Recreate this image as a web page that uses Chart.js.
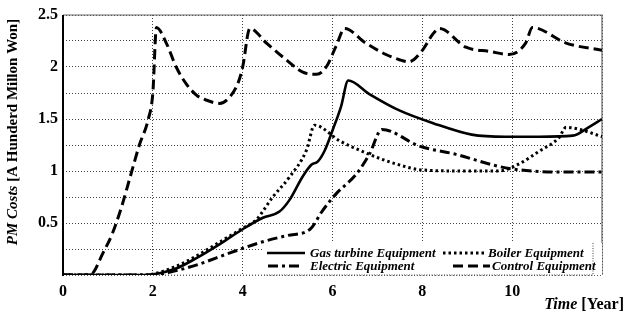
<!DOCTYPE html>
<html>
<head>
<meta charset="utf-8">
<script src="https://cdn.jsdelivr.net/npm/chart.js@4/dist/chart.umd.min.js"></script>
<style>
html,body{margin:0;padding:0;background:#fff;}
#wrap{width:628px;height:320px;position:relative;}
</style>
</head>
<body>
<div id="wrap"><canvas id="c" width="628" height="320"></canvas></div>
<script>
// ---- data ----
const gasX = [0, 1.8, 2.5, 3.0, 3.5, 4.0, 4.45, 4.82, 5.04, 5.34, 5.53, 5.67, 5.83, 6.0, 6.19, 6.35, 6.82, 7.5, 8.24, 9.1, 9.86, 10.6, 11.35, 11.7, 12];
const gasY = [0, 0, 0.06, 0.17, 0.3, 0.44, 0.55, 0.61, 0.72, 0.95, 1.06, 1.09, 1.2, 1.39, 1.62, 1.87, 1.74, 1.58, 1.46, 1.35, 1.33, 1.33, 1.34, 1.42, 1.5];

const boilerX = [0, 1.8, 2.5, 3.0, 3.5, 4.0, 4.3, 4.67, 5.04, 5.42, 5.6, 6.16, 6.82, 7.4, 8.0, 9.0, 9.7, 10.16, 10.6, 11.04, 11.2, 11.5, 12];
const boilerY = [0, 0, 0.08, 0.19, 0.32, 0.45, 0.53, 0.75, 0.94, 1.2, 1.44, 1.29, 1.16, 1.07, 1.01, 1.0, 1.0, 1.07, 1.19, 1.32, 1.42, 1.4, 1.33];

const electricX = [0, 2.0, 2.5, 3.0, 3.7, 4.45, 5.0, 5.5, 5.78, 6.08, 6.53, 6.82, 7.1, 7.93, 8.75, 9.64, 10.0, 10.45, 11.0, 12];
const electricY = [0, 0, 0.04, 0.1, 0.21, 0.32, 0.38, 0.44, 0.62, 0.78, 0.97, 1.16, 1.40, 1.24, 1.16, 1.05, 1.02, 1.0, 0.99, 0.99];

const controlX = [0, 0.6, 0.9, 1.1, 1.3, 1.5, 1.7, 1.9, 2.0, 2.08, 2.3, 2.52, 2.74, 2.97, 3.2, 3.49, 3.71, 3.9, 4.0, 4.16, 4.53, 4.97, 5.34, 5.65, 5.86, 6.08, 6.27, 6.74, 7.19, 7.49, 7.7, 8.0, 8.24, 8.38, 8.97, 9.5, 9.93, 10.3, 10.45, 11.2, 12];
const controlY = [0, 0, 0.22, 0.4, 0.65, 0.95, 1.25, 1.5, 1.75, 2.38, 2.23, 2.0, 1.84, 1.73, 1.68, 1.65, 1.71, 1.85, 2.0, 2.37, 2.23, 2.07, 1.95, 1.93, 2.0, 2.2, 2.37, 2.23, 2.12, 2.07, 2.05, 2.16, 2.32, 2.37, 2.19, 2.15, 2.12, 2.23, 2.38, 2.23, 2.16];

const seriesNames = ['Gas turbine Equipment', 'Boiler Equipment', 'Electric Equipment', 'Control Equipment'];
const xTickLabels = ['0', '2', '4', '6', '8', '10', ''];
const yTickLabels = ['', '0.5', '1', '1.5', '2', '2.5'];
const yAxisTitle = ['PM Costs', ' [A Hunderd Millon Won]'];
const xAxisTitle = ['Time', ' [Year]'];

// ---- build ----
const pts = (xs, ys) => xs.map((x, i) => ({x: x, y: ys[i]}));
const SERIF = '"Liberation Serif", "DejaVu Serif", serif';

const datasets = [
  {label: seriesNames[0], data: pts(gasX, gasY), borderColor: '#000', borderWidth: 2.6, borderDash: []},
  {label: seriesNames[1], data: pts(boilerX, boilerY), borderColor: '#000', borderWidth: 3, borderDash: [2.5, 3]},
  {label: seriesNames[2], data: pts(electricX, electricY), borderColor: '#000', borderWidth: 3, borderDash: [10, 4, 3, 4]},
  {label: seriesNames[3], data: pts(controlX, controlY), borderColor: '#000', borderWidth: 3, borderDash: [10, 5]}
].map(d => Object.assign(d, {pointRadius: 0, fill: false, cubicInterpolationMode: 'monotone'}));

const decor = {
  id: 'decor',
  beforeDatasetsDraw(chart) {
    const {ctx, chartArea: a} = chart;
    ctx.save();
    // frame
    ctx.strokeStyle = '#666'; ctx.lineWidth = 1.2; ctx.setLineDash([]);
    ctx.beginPath(); ctx.moveTo(a.left, a.top); ctx.lineTo(a.right, a.top); ctx.lineTo(a.right, a.bottom); ctx.stroke();
    ctx.strokeStyle = '#777'; ctx.lineWidth = 1; ctx.setLineDash([1, 2]);
    ctx.beginPath(); ctx.moveTo(a.left, a.bottom); ctx.lineTo(a.right, a.bottom); ctx.stroke();
    ctx.setLineDash([]);
    ctx.strokeStyle = '#000'; ctx.lineWidth = 2;
    ctx.beginPath(); ctx.moveTo(a.left, a.top); ctx.lineTo(a.left, a.bottom + 1); ctx.stroke();
    ctx.restore();
  },
  afterDatasetsDraw(chart) {
    const {ctx, chartArea: a} = chart;
    ctx.save();
    // legend box
    const bx = 264, by = 243, bw = a.right - 264, bh = a.bottom - 243;
    ctx.fillStyle = '#fff';
    ctx.fillRect(bx, by, bw, bh);
    ctx.strokeStyle = '#444'; ctx.lineWidth = 1; ctx.setLineDash([1, 1.5]);
    ctx.beginPath(); ctx.moveTo(a.right - 9, by); ctx.lineTo(a.right - 9, a.bottom); ctx.lineTo(bx, a.bottom); ctx.stroke();
    const items = [
      {ds: 0, lx: 267, tx: 310, y: 253, w: 38},
      {ds: 1, lx: 443, tx: 488, y: 253, w: 42},
      {ds: 2, lx: 268, tx: 310, y: 266, w: 32},
      {ds: 3, lx: 453, tx: 492, y: 266, w: 37}
    ];
    items.forEach(it => {
      const d = chart.data.datasets[it.ds];
      ctx.strokeStyle = '#000'; ctx.lineWidth = d.borderWidth;
      ctx.setLineDash(d.borderDash);
      ctx.beginPath(); ctx.moveTo(it.lx, it.y); ctx.lineTo(it.lx + it.w, it.y); ctx.stroke();
      ctx.setLineDash([]);
      ctx.fillStyle = '#000';
      ctx.font = 'italic bold 13px ' + SERIF;
      ctx.textBaseline = 'middle'; ctx.textAlign = 'left';
      ctx.fillText(d.label, it.tx, it.y + 1);
    });
    ctx.restore();
  },
  afterDraw(chart) {
    const {ctx} = chart;
    ctx.save();
    ctx.fillStyle = '#000';
    ctx.textBaseline = 'middle'; ctx.textAlign = 'left';
    // y title
    const f1 = 'italic bold 15px ' + SERIF, f2 = 'bold 15px ' + SERIF;
    ctx.font = f1; const w1 = ctx.measureText(yAxisTitle[0]).width;
    ctx.font = f2; const w2 = ctx.measureText(yAxisTitle[1]).width;
    ctx.translate(13, 132); ctx.rotate(-Math.PI / 2);
    const s = -(w1 + w2) / 2;
    ctx.font = f1; ctx.fillText(yAxisTitle[0], s, 0);
    ctx.font = f2; ctx.fillText(yAxisTitle[1], s + w1, 0);
    ctx.setTransform(1, 0, 0, 1, 0, 0);
    // x title
    const g1 = 'italic bold 16px ' + SERIF, g2 = 'bold 16px ' + SERIF;
    ctx.font = g1; const v1 = ctx.measureText(xAxisTitle[0]).width;
    ctx.font = g2; const v2 = ctx.measureText(xAxisTitle[1]).width;
    const ex = 624 - v1 - v2;
    ctx.font = g1; ctx.fillText(xAxisTitle[0], ex, 305);
    ctx.font = g2; ctx.fillText(xAxisTitle[1], ex + v1, 305);
    ctx.restore();
  }
};

new Chart(document.getElementById('c'), {
  type: 'line',
  data: {datasets: datasets},
  options: {
    responsive: false,
    animation: false,
    layout: {padding: {left: 0, right: 26, top: 15, bottom: 0}},
    plugins: {legend: {display: false}, tooltip: {enabled: false}},
    scales: {
      x: {
        type: 'linear', min: 0, max: 12,
        border: {display: false, dash: [1, 2]},
        grid: {color: '#444', lineWidth: 1, drawTicks: false},
        ticks: {
          stepSize: 2, padding: 7, color: '#000',
          font: {family: SERIF, size: 16, weight: 'bold'},
          callback: (v) => xTickLabels[Math.round(v / 2)] ?? ''
        },
        afterFit: (s) => { s.height = 45; }
      },
      y: {
        type: 'linear', min: 0, max: 2.5,
        border: {display: false, dash: [1, 2]},
        grid: {color: '#444', lineWidth: 1, drawTicks: false},
        ticks: {
          stepSize: 0.25, padding: 5, color: '#000', autoSkip: false,
          font: {family: SERIF, size: 16, weight: 'bold'},
          callback: (v) => {
            const k = Math.round(v * 4);
            return k % 2 === 0 ? yTickLabels[k / 2] : '';
          }
        },
        afterFit: (s) => { s.width = 63; }
      }
    },
    elements: {line: {tension: 0.3}}
  },
  plugins: [decor]
});
</script>
</body>
</html>
